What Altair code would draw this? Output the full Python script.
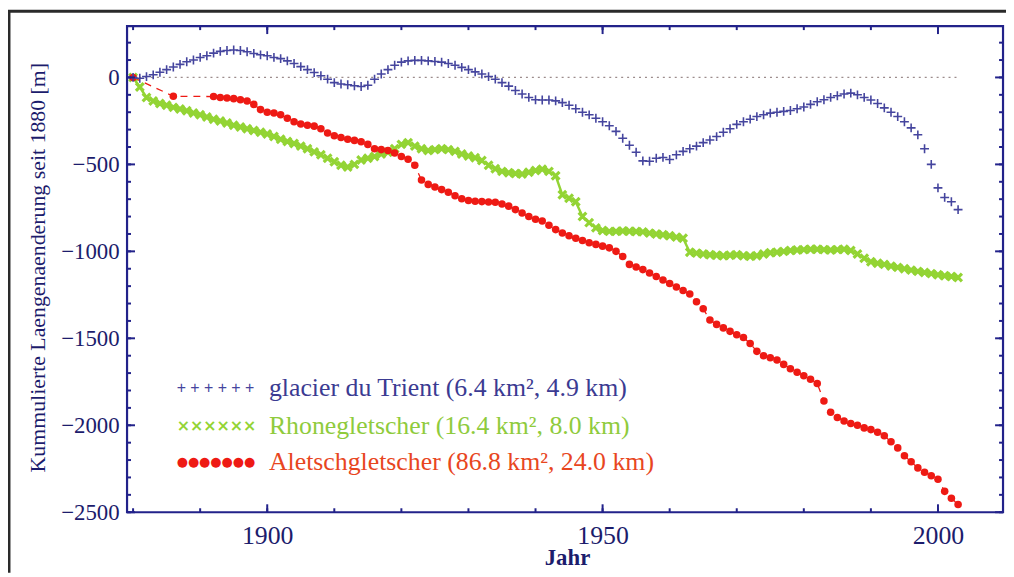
import altair as alt
import pandas as pd

# ---------------- data ----------------
YEARS = list(range(1880, 2004))

TRIENT = [
    0, -5, 5, 15, 30, 45, 60, 75, 90, 100,                       # 1880s
    115, 125, 140, 150, 155, 158, 155, 148, 138, 130,            # 1890s
    125, 115, 108, 95, 80, 62, 45, 28, 10, -10,                  # 1900s
    -30, -38, -42, -48, -52, -45, -10, 20, 45, 70,               # 1910s
    88, 95, 98, 98, 95, 92, 88, 80, 70, 58,                      # 1920s
    45, 32, 20, 5, -10, -30, -50, -75, -95, -115,                # 1930s
    -128, -130, -130, -135, -145, -160, -180, -200, -215, -235,  # 1940s
    -255, -278, -310, -350, -390, -430, -480, -482, -465, -460,  # 1950s
    -472, -445, -425, -410, -395, -375, -360, -340, -315, -295,  # 1960s
    -270, -255, -240, -225, -215, -205, -200, -195, -190, -180,  # 1970s
    -170, -155, -140, -128, -115, -105, -95, -90, -100, -115,    # 1980s
    -130, -150, -175, -200, -225, -255, -290, -330, -410, -500,  # 1990s
    -635, -690, -715, -760,                                      # 2000s
]

RHONE = [
    0, -55, -115, -135, -150, -160, -172, -182, -192, -205,
    -215, -228, -240, -250, -262, -275, -285, -295, -305, -315,
    -325, -340, -355, -368, -380, -395, -410, -428, -445, -465,
    -485, -505, -515, -500, -475, -465, -455, -440, -430, -410,
    -385, -375, -395, -410, -420, -415, -410, -415, -425, -440,
    -452, -462, -478, -505, -525, -540, -548, -552, -555, -545,
    -535, -528, -540, -565, -675, -695, -715, -800, -835, -865,
    -880, -885, -885, -883, -884, -886, -888, -895, -900, -905,
    -910, -918, -925, -1005, -1010, -1015, -1020, -1022, -1025, -1022,
    -1020, -1025, -1028, -1025, -1015, -1008, -1005, -1000, -995, -992,
    -990, -988, -988, -990, -992, -990, -988, -995, -1015, -1040,
    -1060, -1068, -1075, -1085, -1092, -1100, -1108, -1115, -1122, -1128,
    -1135, -1140, -1145, -1150,
]

ALETSCH_YEARS = [1880, 1886] + list(range(1892, 2004))
ALETSCH = [
    0, -108,
    -110, -115, -118, -122, -128, -135, -155, -185,                        # 1892-1899
    -200, -205, -215, -235, -255, -268, -275, -280, -295, -320,            # 1900s
    -335, -345, -355, -362, -370, -385, -410, -415, -420, -435,            # 1910s
    -455, -470, -505, -590, -615, -630, -645, -660, -680, -698,            # 1920s
    -708, -712, -714, -716, -718, -728, -740, -760, -780, -800,            # 1930s
    -815, -825, -850, -875, -895, -910, -925, -938, -950, -960,            # 1940s
    -970, -980, -1000, -1030, -1075, -1090, -1105, -1125, -1145, -1165,    # 1950s
    -1185, -1205, -1225, -1245, -1290, -1330, -1395, -1420, -1440, -1460,  # 1960s
    -1480, -1495, -1530, -1575, -1600, -1612, -1625, -1650, -1675, -1695,  # 1970s
    -1715, -1735, -1760, -1860, -1925, -1955, -1975, -1990, -2000, -2015,  # 1980s
    -2025, -2040, -2060, -2095, -2130, -2175, -2210, -2245, -2270, -2290,  # 1990s
    -2310, -2380, -2420, -2455,                                            # 2000s
]

ZERO_YEARS = [1880, 2003]
ZERO_VALUES = [0, 0]

X_LABELS = [1900, 1950, 2000]
X_MINOR = list(range(1880, 2010, 10))
Y_LABELS = [0, -500, -1000, -1500, -2000, -2500]
Y_MINOR = list(range(-2500, 300, 100))

LEGEND_LABELS = [
    "glacier du Trient (6.4 km\u00b2, 4.9 km)",
    "Rhonegletscher (16.4 km\u00b2, 8.0 km)",
    "Aletschgletscher (86.8 km\u00b2, 24.0 km)",
]
Y_TITLE = "Kummulierte Laengenaenderung seit 1880 [m]"
X_TITLE = "Jahr"

# ---------------- styling ----------------
W, H = 883, 490
XDOM = [1879.1, 2009.7]
YDOM = [-2500, 295]
SERIF = "Liberation Serif"
NAVY = "#22228a"
LABEL = "#1c1c6c"
BLUE = "#45459e"
GREEN = "#93d434"
RED = "#ee1a14"
BLUE_TXT = "#3b3b92"
GREEN_TXT = "#8fcb3c"
RED_TXT = "#e8461e"

PLUS = "M-1,0L1,0M0,-1L0,1"
CROSS = "M-1,-1L1,1M-1,1L1,-1"

x_axis = alt.Axis(values=X_LABELS, format="d", ticks=False, domain=False, grid=False,
                  labelFont=SERIF, labelFontSize=26, labelColor=LABEL, labelPadding=11,
                  title=X_TITLE, titleFont=SERIF, titleFontSize=23, titleFontWeight="bold",
                  titleColor=LABEL, titleX=W / 2 + 2, titleY=53, titleBaseline="alphabetic",
                  titleAlign="center")
y_axis = alt.Axis(values=Y_LABELS, format="d", ticks=False, domain=False, grid=False,
                  labelFont=SERIF, labelFontSize=23, labelColor=LABEL, labelPadding=8,
                  title=Y_TITLE, titleFont=SERIF, titleFontSize=22, titleFontWeight="normal",
                  titleColor=LABEL, titleX=-90, titleY=H / 2 - 2, titleAngle=-90,
                  titleAlign="center", titleBaseline="middle")

X = alt.X("Jahr:Q", scale=alt.Scale(domain=XDOM, nice=False, zero=False), axis=x_axis)
Y = alt.Y("m:Q", scale=alt.Scale(domain=YDOM, nice=False, zero=False), axis=y_axis)

trient_df = pd.DataFrame({"Jahr": YEARS, "m": TRIENT})
rhone_df = pd.DataFrame({"Jahr": YEARS, "m": RHONE})
aletsch_df = pd.DataFrame({"Jahr": ALETSCH_YEARS, "m": ALETSCH})
zero_df = pd.DataFrame({"Jahr": ZERO_YEARS, "m": ZERO_VALUES})

zero_line = alt.Chart(zero_df).mark_line(color="#9c8c8c", strokeDash=[2, 4], strokeWidth=1.3).encode(x=X, y=Y)

aletsch_line = alt.Chart(aletsch_df).mark_line(color=RED, strokeDash=[7, 6], strokeWidth=1.3).encode(x=X, y=Y)
aletsch_pts = alt.Chart(aletsch_df).mark_circle(color=RED, size=58, opacity=1).encode(x=X, y=Y)
rhone_line = alt.Chart(rhone_df).mark_line(color=GREEN, strokeWidth=2.5).encode(x=X, y=Y)
rhone_pts = alt.Chart(rhone_df).mark_point(shape=CROSS, filled=False, color=GREEN, size=60,
                                           strokeWidth=3.2, opacity=1).encode(x=X, y=Y)
trient_pts = alt.Chart(trient_df).mark_point(shape=PLUS, filled=False, color=BLUE, size=80,
                                             strokeWidth=1.6, opacity=1).encode(x=X, y=Y)

# inward ticks on all four sides
def xticks(vals, length):
    d = pd.DataFrame({"Jahr": vals})
    bottom = alt.Chart(d).mark_rule(color=NAVY, strokeWidth=2).encode(
        x=X, y=alt.value(H), y2=alt.value(H - length))
    top = alt.Chart(d).mark_rule(color=NAVY, strokeWidth=2).encode(
        x=X, y=alt.value(0), y2=alt.value(length))
    return [bottom, top]

def yticks(vals, length):
    d = pd.DataFrame({"m": vals})
    left = alt.Chart(d).mark_rule(color=NAVY, strokeWidth=2).encode(
        y=Y, x=alt.value(0), x2=alt.value(length))
    right = alt.Chart(d).mark_rule(color=NAVY, strokeWidth=2).encode(
        y=Y, x=alt.value(W), x2=alt.value(W - length))
    return [left, right]

tick_layers = xticks(X_MINOR, 4) + xticks(X_LABELS, 8) + yticks(Y_MINOR, 4) + yticks(Y_LABELS, 8)

# legend (inside the plot)
one = pd.DataFrame({"a": [0]})
LEG_X_SYM = 50
LEG_X_TXT = 143
LEG_ROWS = [365, 403, 439]
legend_layers = []
sym_specs = [
    ("+ + + + + +", BLUE, "Liberation Sans", 16, "normal"),
    ("\u00d7\u00d7\u00d7\u00d7\u00d7\u00d7", GREEN, "DejaVu Sans", 16, "bold"),
    ("\u25cf\u25cf\u25cf\u25cf\u25cf\u25cf\u25cf", RED, "DejaVu Sans", 13, "normal"),
]
txt_colors = [BLUE_TXT, GREEN_TXT, RED_TXT]
for i in range(3):
    s, c, f, fs, fw = sym_specs[i]
    legend_layers.append(
        alt.Chart(pd.DataFrame({"t": [s]})).mark_text(
            align="left", baseline="middle", font=f, fontSize=fs, fontWeight=fw, color=c
        ).encode(x=alt.value(LEG_X_SYM), y=alt.value(LEG_ROWS[i]), text="t:N")
    )
    legend_layers.append(
        alt.Chart(pd.DataFrame({"t": [LEGEND_LABELS[i]]})).mark_text(
            align="left", baseline="middle", font=SERIF, fontSize=26, color=txt_colors[i]
        ).encode(x=alt.value(LEG_X_TXT), y=alt.value(LEG_ROWS[i]), text="t:N")
    )

# outer figure frame (top and left edges)
frame_top = alt.Chart(one).mark_rule(color="#2a2a2a", strokeWidth=3).encode(
    x=alt.value(-120), x2=alt.value(W + 3), y=alt.value(-15))
frame_left = alt.Chart(one).mark_rule(color="#2a2a2a", strokeWidth=3).encode(
    x=alt.value(-119), y=alt.value(-16), y2=alt.value(H + 61))

chart = alt.layer(
    zero_line, aletsch_line, rhone_line, rhone_pts, aletsch_pts, trient_pts,
    *tick_layers, *legend_layers, frame_top, frame_left
).properties(
    width=W, height=H,
    padding={"left": 120, "top": 16, "right": 3, "bottom": 61},
    autosize=alt.AutoSizeParams(type="none"),
    background="white",
).configure_view(stroke=NAVY, strokeWidth=2.2)

chart.save("out.html", embed_options={"renderer": "svg", "actions": False})
